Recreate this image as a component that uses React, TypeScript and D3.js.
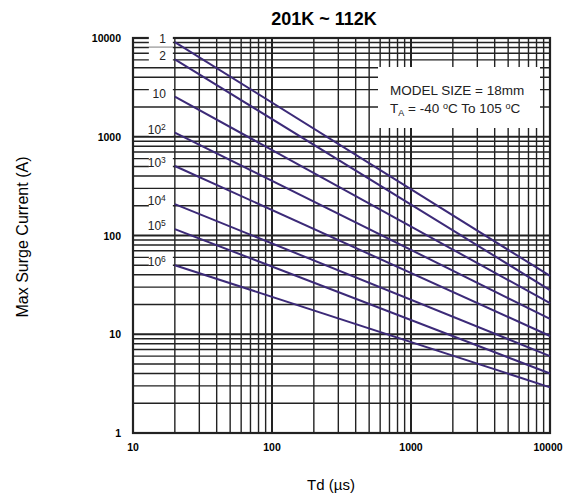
import React from "react";
import * as d3 from "d3";

const title = "201K ~ 112K";
const xLabel = "Td (µs)";
const yLabel = "Max Surge Current (A)";
const xTicks = [10, 100, 1000, 10000];
const yTicks = [1, 10, 100, 1000, 10000];
const seriesBase = ["1", "2", "10", "10", "10", "10", "10", "10"];
const seriesSup = ["", "", "", "2", "3", "4", "5", "6"];
const startTd = [20, 20, 20, 20, 20, 20, 20, 20];
const endTd = [10000, 10000, 10000, 10000, 10000, 10000, 10000, 10000];
const startCurrent = [9100, 6080, 2550, 1100, 506, 208, 116, 50];
const endCurrent = [39, 28, 20.7, 14.3, 9.6, 6.0, 4.0, 2.9];
const noteLines = ["MODEL SIZE = 18mm"];

export default function App() {
  const W = 564, H = 500;
  const left = 133, right = 550, top = 38, bottom = 433;
  const x = d3.scaleLog().domain([10, 10000]).range([left, right]);
  const y = d3.scaleLog().domain([1, 10000]).range([bottom, top]);

  const minorX: number[] = [];
  for (let d = 10; d < 10000; d *= 10) for (let k = 2; k <= 9; k++) minorX.push(d * k);
  const minorY: number[] = [];
  for (let d = 1; d < 10000; d *= 10) for (let k = 2; k <= 9; k++) minorY.push(d * k);

  const line = d3.line<[number, number]>().x((d) => x(d[0])).y((d) => y(d[1]));
  const gridColor = "#222";
  const lineColor = "#3c2a78";
  const font = "Arial, 'Liberation Sans', sans-serif";

  return (
    <svg width={W} height={H} style={{ position: "absolute", left: 0, top: 0, background: "#fff" }}>
      <rect x={0} y={0} width={W} height={H} fill="#fff" />
      <text x={324} y={25} textAnchor="middle" fontFamily={font} fontWeight="bold" fontSize={18}>{title}</text>
      {/* grid */}
      {minorX.map((v) => (
        <line key={"mx" + v} x1={x(v)} x2={x(v)} y1={top} y2={bottom} stroke={gridColor} strokeWidth={1.4} />
      ))}
      {minorY.map((v) => (
        <line key={"my" + v} x1={left} x2={right} y1={y(v)} y2={y(v)} stroke={gridColor} strokeWidth={1.4} />
      ))}
      {xTicks.map((v) => (
        <line key={"Mx" + v} x1={x(v)} x2={x(v)} y1={top} y2={bottom} stroke={gridColor} strokeWidth={2} />
      ))}
      {yTicks.map((v) => (
        <line key={"My" + v} x1={left} x2={right} y1={y(v)} y2={y(v)} stroke={gridColor} strokeWidth={2} />
      ))}
      <rect x={left} y={top} width={right - left} height={bottom - top} fill="none" stroke={gridColor} strokeWidth={2.2} />
      {/* legend box */}
      <rect x={378} y={67} width={162} height={61} fill="#fff" />
      <text x={390} y={95} fontFamily={font} fontSize={13.5} fill="#222">{noteLines[0]}</text>
      <text x={390} y={113} fontFamily={font} fontSize={13.5} fill="#222">
        T<tspan fontSize={9} dy={3}>A</tspan>
        <tspan dy={-3}> = -40 </tspan>
        <tspan fontSize={9} dy={-4}>o</tspan>
        <tspan dy={4}>C To 105 </tspan>
        <tspan fontSize={9} dy={-4}>o</tspan>
        <tspan dy={4}>C</tspan>
      </text>
      {/* series */}
      {startCurrent.map((s, i) => {
        const p0: [number, number] = [startTd[i], s];
        const p1: [number, number] = [endTd[i], endCurrent[i]];
        const lx = x(startTd[i]);
        const ly = y(s);
        return (
          <g key={"s" + i}>
            <rect x={lx - 26} y={ly - 12} width={24} height={15} fill="#fff" />
            <path d={line([p0, p1]) || ""} fill="none" stroke={lineColor} strokeWidth={2} />
            <text x={lx - 9} y={ly + 1} textAnchor="end" fontFamily={font} fontSize={12} fill="#222">
              {seriesBase[i]}
              {seriesSup[i] ? <tspan fontSize={8.5} dy={-4}>{seriesSup[i]}</tspan> : null}
            </text>
          </g>
        );
      })}
      {/* axis labels */}
      {yTicks.map((v) => (
        <text key={"yl" + v} x={121} y={y(v) + 4} textAnchor="end" fontFamily={font} fontWeight="bold" fontSize={10.5}>{v}</text>
      ))}
      {xTicks.map((v) => (
        <text key={"xl" + v} x={x(v) + (v === 10000 ? -2 : 0)} y={451} textAnchor="middle" fontFamily={font} fontWeight="bold" fontSize={10.5}>{v}</text>
      ))}
      <text x={331} y={490} textAnchor="middle" fontFamily={font} fontSize={15}>{xLabel}</text>
      <text transform={`translate(28,237) rotate(-90)`} textAnchor="middle" fontFamily={font} fontSize={16}>{yLabel}</text>
    </svg>
  );
}
